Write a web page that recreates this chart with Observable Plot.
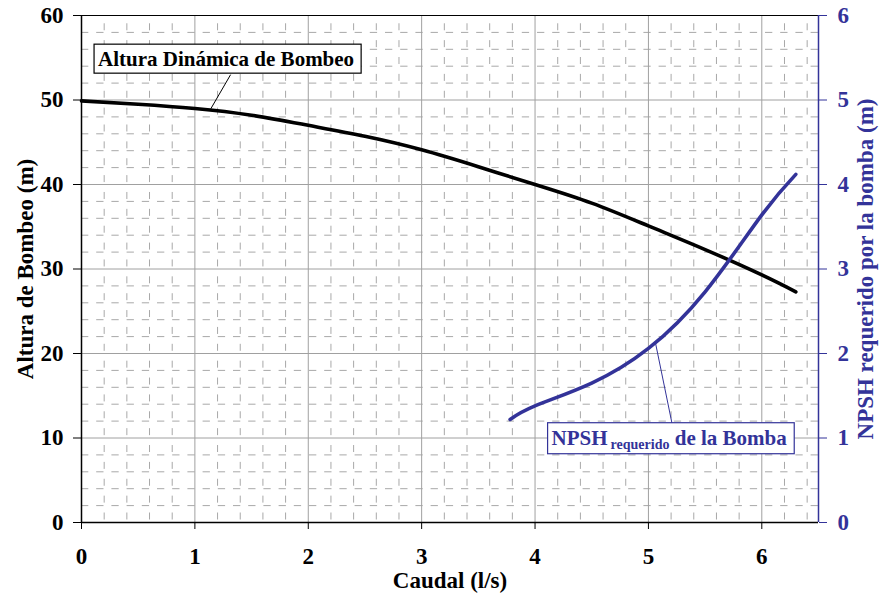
<!DOCTYPE html>
<html><head><meta charset="utf-8">
<script src="https://cdn.jsdelivr.net/npm/d3@7"></script>
<script src="https://cdn.jsdelivr.net/npm/@observablehq/plot@0.6"></script>
<style>
  html,body{margin:0;padding:0;background:#fff;}
  #chart{width:879px;height:596px;}
</style>
</head><body><div id="chart"></div>
<script>
// ---- data ----
const caudal = [0, 0.5, 1, 1.5, 2, 2.5, 3, 3.5, 4, 4.5, 5, 5.5, 6, 6.3];
const altura = [49.9, 49.5, 49.0, 48.2, 47.0, 45.7, 44.1, 42.1, 40.0, 37.8, 35.1, 32.3, 29.3, 27.3];
const npshCaudal = [3.78, 4.0, 4.5, 5.0, 5.5, 6.0, 6.3];
const npshValues = [1.22, 1.38, 1.65, 2.06, 2.73, 3.64, 4.12];
const xTicks = [0, 1, 2, 3, 4, 5, 6];
const yTicksLeft = [0, 10, 20, 30, 40, 50, 60];
const yTicksRight = [0, 1, 2, 3, 4, 5, 6];
const labelAltura = "Altura Dinámica de Bombeo";
const labelNpsh = "NPSH requerido de la Bomba";
const titleX = "Caudal (l/s)";
const titleYLeft = "Altura de Bombeo (m)";
const titleYRight = "NPSH requerido por la bomba (m)";

// ---- derived ----
const BLUE = "#333399";
const FONT = '"Liberation Serif", "Times New Roman", serif';
const K = 10; // right axis (0-6) mapped onto left scale (0-60)
const alturaData = caudal.map((q, i) => ({q, h: altura[i]}));
const npshData = npshCaudal.map((q, i) => ({q, n: npshValues[i]}));
const minorX = d3.range(1, 33).map(i => i / 5).filter(v => Math.abs(v - Math.round(v)) > 1e-9);
const minorY = d3.range(1, 30).map(i => i * 2).filter(v => v % 10 !== 0);
const majorX = xTicks.filter(v => v > 0);
const majorY = yTicksLeft.filter(v => v > 0 && v < 60);

const chart = Plot.plot({
  width: 879, height: 596,
  marginLeft: 81, marginRight: 61, marginTop: 15, marginBottom: 74,
  style: {fontFamily: FONT, fontWeight: "bold", background: "#fff", overflow: "visible"},
  x: {domain: [0, 6.5], label: null},
  y: {domain: [0, 60], label: null},
  marks: [
    Plot.gridX({ticks: minorX, stroke: "#a8a8a8", strokeOpacity: 1, strokeDasharray: "7,9.87", strokeDashoffset: 8.6}),
    Plot.gridY({ticks: minorY, stroke: "#a8a8a8", strokeOpacity: 1, strokeDasharray: "7.3,7.9"}),
    Plot.gridX({ticks: majorX, stroke: "#a0a0a0", strokeOpacity: 1}),
    Plot.gridY({ticks: majorY, stroke: "#a0a0a0", strokeOpacity: 1}),
    Plot.ruleY([60], {stroke: "black", strokeWidth: 1.2}),
    Plot.ruleX([0], {stroke: "black", strokeWidth: 1.5}),
    Plot.ruleY([0], {stroke: "black", strokeWidth: 1.5}),
    Plot.ruleX([6.5], {stroke: BLUE, strokeWidth: 1.5}),
    Plot.axisX({ticks: xTicks, tickFormat: d => String(d), tickSize: 7, tickPadding: 18, fontSize: 23, fontWeight: "bold", label: null, color: "black"}),
    Plot.axisY({ticks: yTicksLeft, tickFormat: d => String(d), anchor: "left", tickSize: 8, tickPadding: 10, fontSize: 23, fontWeight: "bold", label: null, color: "black"}),
    Plot.axisY({ticks: yTicksRight.map(v => v * K), anchor: "right", tickFormat: d => String(d / K), tickSize: 8, tickPadding: 11, fontSize: 23, fontWeight: "bold", label: null, color: BLUE}),
    Plot.line(alturaData, {x: "q", y: "h", curve: "natural", stroke: "black", strokeWidth: 3.6}),
    Plot.line(npshData, {x: "q", y: d => d.n * K, curve: "natural", stroke: BLUE, strokeWidth: 3.6}),
    Plot.link([labelAltura], {x1: 1.315, y1: 53.0, x2: 1.14, y2: 48.95, stroke: "black", strokeWidth: 1}),
    Plot.link([labelNpsh], {x1: 5.21, y1: 11.6, x2: 5.06, y2: 21.4, stroke: BLUE, strokeWidth: 1}),
    Plot.text([labelAltura], {x: 0.146, y: 54.8, text: d => d, textAnchor: "start", fontSize: 21, fontWeight: "bold", fill: "black"}),
    Plot.text([labelNpsh], {x: 4.146, y: 10.0, text: d => d, textAnchor: "start", fontSize: 21, fontWeight: "bold", fill: BLUE}),
    Plot.text([titleX], {frameAnchor: "bottom", lineAnchor: "middle", textAnchor: "middle", dy: 58, text: d => d, fontSize: 23, fontWeight: "bold", fill: "black"}),
    Plot.text([titleYLeft], {frameAnchor: "left", lineAnchor: "middle", textAnchor: "middle", dx: -56, rotate: -90, text: d => d, fontSize: 23, fontWeight: "bold", fill: "black"}),
    Plot.text([titleYRight], {frameAnchor: "right", lineAnchor: "middle", textAnchor: "middle", dx: 47, rotate: -90, text: d => d, fontSize: 23, fontWeight: "bold", fill: BLUE})
  ]
});

document.getElementById("chart").appendChild(chart);

// ---- post-process annotation labels: subscript + white boxes ----
const svg = d3.select(chart);
svg.selectAll("text").filter(function() { return this.textContent === labelNpsh; }).each(function() {
  const t = d3.select(this);
  t.text(null);
  t.append("tspan").text("NPSH");
  t.append("tspan").attr("font-size", 14).attr("dx", 3).attr("dy", 4).text("requerido");
  t.append("tspan").attr("font-size", 21).attr("dy", -4).text(" de la Bomba");
});
[[labelAltura, "black"], [labelNpsh, BLUE]].forEach(([lab, col]) => {
  svg.selectAll("text").filter(function() {
    return this.textContent === lab || (lab === labelNpsh && this.textContent === "NPSHrequerido de la Bomba");
  }).each(function() {
    const b = this.getBBox();
    const g = this.parentNode;
    const tr = this.getAttribute("transform");
    const r = document.createElementNS("http://www.w3.org/2000/svg", "rect");
    r.setAttribute("x", b.x - 4);
    r.setAttribute("y", b.y - 3);
    r.setAttribute("width", b.width + 11);
    r.setAttribute("height", b.height + 5);
    r.setAttribute("fill", "white");
    r.setAttribute("stroke", col);
    r.setAttribute("stroke-width", 1.2);
    if (tr) r.setAttribute("transform", tr);
    g.insertBefore(r, this);
  });
});
</script>
</body></html>
